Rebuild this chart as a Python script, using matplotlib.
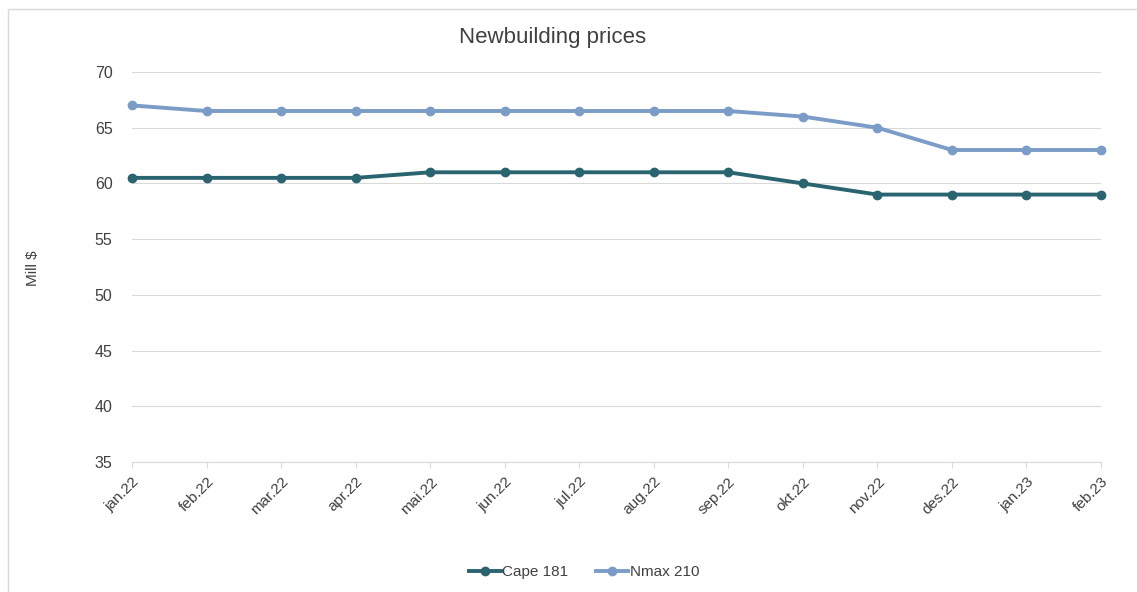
import matplotlib
matplotlib.use("Agg")
import matplotlib.pyplot as plt
from matplotlib.patches import Rectangle

months = ["jan.22", "feb.22", "mar.22", "apr.22", "mai.22", "jun.22", "jul.22",
          "aug.22", "sep.22", "okt.22", "nov.22", "des.22", "jan.23", "feb.23"]
cape_181 = [60.5, 60.5, 60.5, 60.5, 61, 61, 61, 61, 61, 60, 59, 59, 59, 59]
nmax_210 = [67, 66.5, 66.5, 66.5, 66.5, 66.5, 66.5, 66.5, 66.5, 66, 65, 63, 63, 63]

plt.rcParams['font.family'] = ['Liberation Sans', 'DejaVu Sans']
txt = "#404040"

fig = plt.figure(figsize=(11.37, 5.92), dpi=100)
fig.patches.append(Rectangle((8/1137, -0.01), 1.0, 1 - 9/592 + 0.01, transform=fig.transFigure,
                             fill=False, edgecolor="#d9d9d9", linewidth=1))
ax = fig.add_axes([132/1137, 1 - 462/592, (1101 - 132)/1137, (462 - 72)/592])

x = list(range(len(months)))
ax.plot(x, cape_181, color="#2a6470", lw=2.8, marker="o", ms=6, label="Cape 181", zorder=3, clip_on=False)
ax.plot(x, nmax_210, color="#7a9cc6", lw=2.8, marker="o", ms=6, label="Nmax 210", zorder=3, clip_on=False)

ax.set_xlim(0, len(months) - 1)
ax.set_ylim(35, 70)
ax.set_yticks(range(35, 71, 5))
ax.set_xticks(x)
ax.set_xticklabels(months, rotation=45, ha="right", rotation_mode="anchor", color=txt, fontsize=11)
ax.tick_params(axis="y", length=0, labelsize=11.5, labelcolor=txt, pad=14)
ax.tick_params(axis="x", length=4, color="#d9d9d9", pad=5)
ax.grid(axis="y", color="#d9d9d9", lw=0.8)
ax.set_axisbelow(True)
for s in ["top", "right", "left"]:
    ax.spines[s].set_visible(False)
ax.spines["bottom"].set_color("#d9d9d9")
ax.spines["bottom"].set_zorder(1)

fig.text(553/1137, 1 - 38/592, "Newbuilding prices", ha="center", va="center", fontsize=16, color=txt)
fig.text(33/1137, 1 - 268/592, "Mill $", ha="center", va="center", rotation=90, fontsize=11, color=txt)

fig.legend(loc="center", bbox_to_anchor=(584/1137, 1 - 572/592), ncol=2, frameon=False,
           fontsize=11, labelcolor=txt, handlelength=2.1, handletextpad=0.1, columnspacing=1.8)

fig.savefig("out.png", dpi=100)
